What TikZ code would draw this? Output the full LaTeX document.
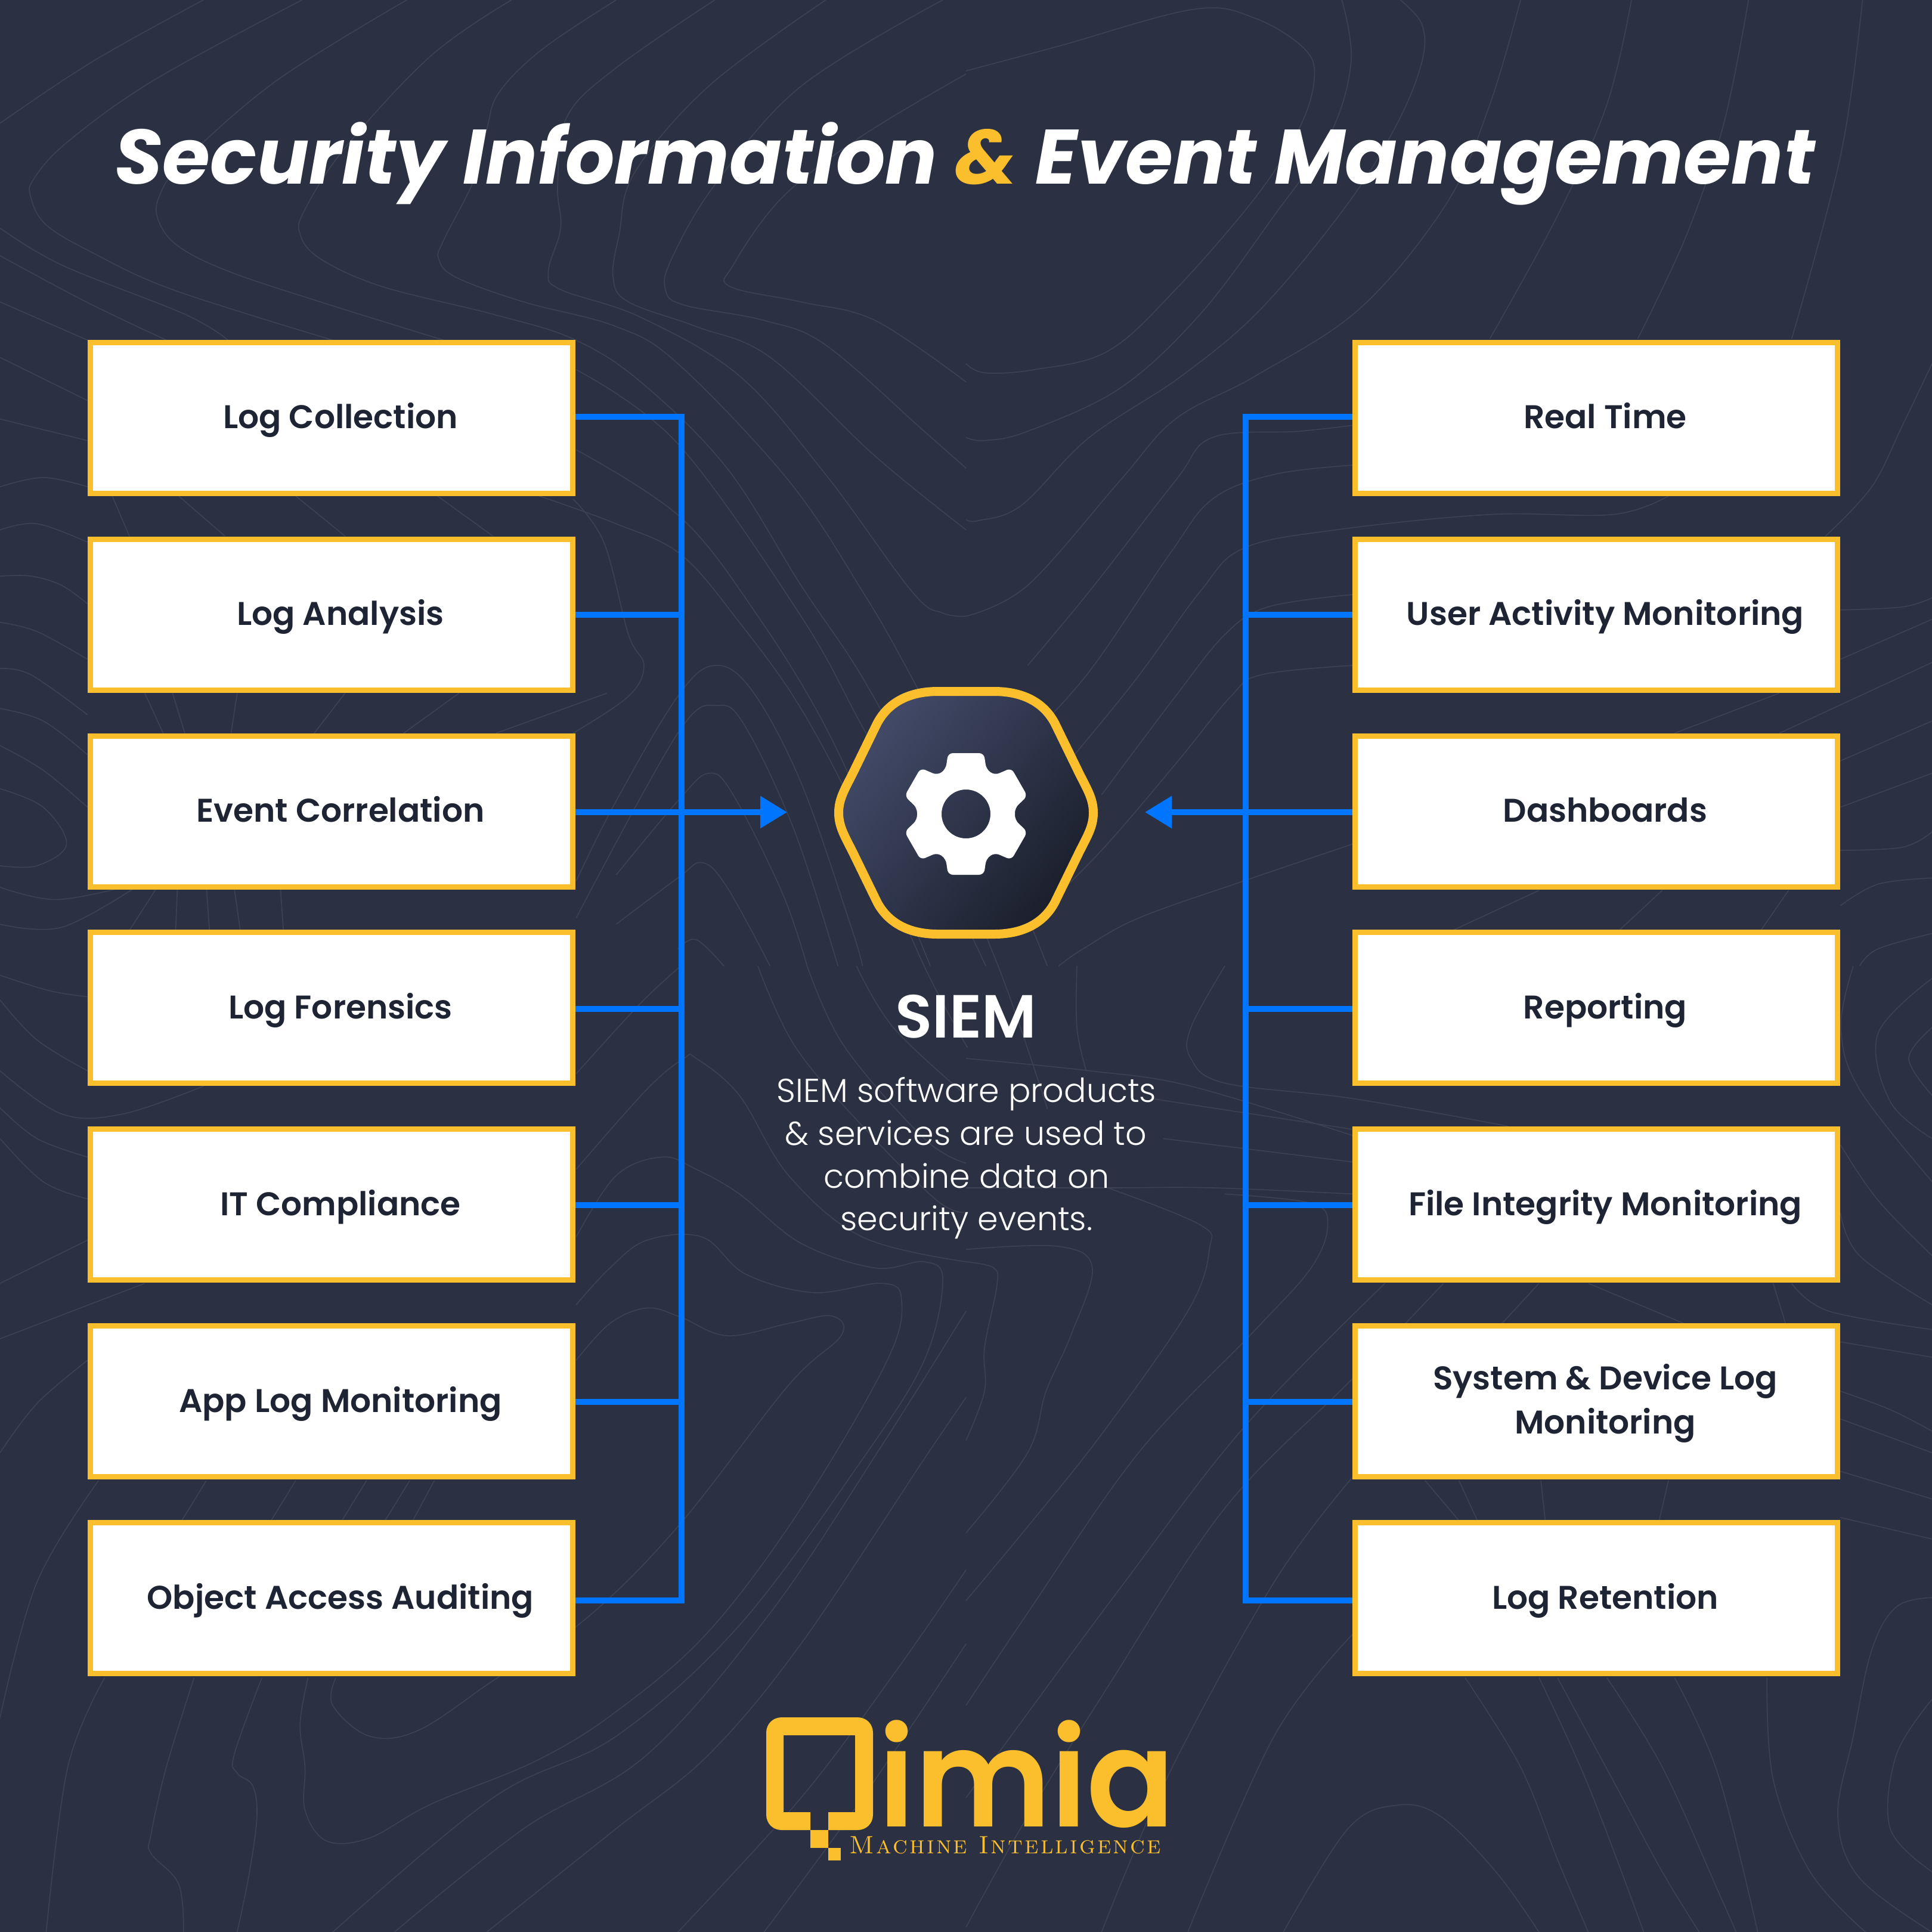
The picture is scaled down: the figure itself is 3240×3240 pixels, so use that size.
\documentclass[tikz,border=0pt]{standalone}
\usepackage{fontspec}
\usetikzlibrary{arrows.meta}
\newfontfamily\fnttitle{Poppins}
\newfontfamily\fntsemi{Poppins SemiBold}
\newfontfamily\fntlight{Poppins Light}
\newfontfamily\fntsub{lmromancaps10-regular.otf}[LetterSpace=7.5]
\definecolor{bgc}{HTML}{2B3142}
\definecolor{ctc}{HTML}{3C4252}
\definecolor{yel}{HTML}{FBBF2D}
\definecolor{blu}{HTML}{0075FF}
\definecolor{ink}{HTML}{1E2433}
\definecolor{hexa}{HTML}{424A68}
\definecolor{hexb}{HTML}{1B1F2C}
\newcommand{\ct}[1]{\draw[contour] plot[smooth,tension=.6] coordinates {#1};}
\tikzset{
  contour/.style={draw=ctc,line width=1.6pt},
  card/.style={draw=yel,fill=white,line width=9pt,minimum width=809pt,minimum height=253pt,inner sep=0pt},
  cardtext/.style={text=ink,font=\fntsemi\fontsize{55}{74}\selectfont,inner sep=0pt,align=center},
  wire/.style={draw=blu,line width=9.5pt},
  wirearrow/.style={wire,-{Triangle[length=45pt,width=52pt]}},
  bodytext/.style={anchor=base,inner sep=0pt,text=white,font=\fntlight\fontsize{55.5}{72}\selectfont},
}
\begin{document}
\begin{tikzpicture}[x=1pt,y=-1pt]
\useasboundingbox (0,0) rectangle (3240,3240);
\fill[bgc] (0,0) rectangle (3240,3240);
\begin{scope}
\clip (0,0) rectangle (3240,3240);
\begin{scope}[scale=1.0333]
\ct{(330,0)(150,100)(0,200)}
\ct{(490,0)(250,130)(110,230)(55,290)(50,320)(75,365)(150,410)(280,470)(540,552)}
\ct{(660,0)(450,130)(300,260)(258,320)(258,360)(290,400)(370,440)(520,490)(720,552)}
\ct{(830,0)(700,90)(560,240)(495,340)(487,380)(520,420)(620,465)(800,510)(930,550)(1040,620)(1180,760)(1300,950)(1400,1100)(1500,1290)(1620,1568)(1700,1800)}
\ct{(1000,0)(880,80)(810,150)(790,210)(770,290)(720,390)(712,420)(740,450)(850,490)(1000,530)(1100,590)(1280,780)(1400,960)(1480,1100)(1600,1330)(1700,1568)}
\ct{(1160,0)(1000,110)(920,190)(905,300)(910,370)(890,440)(910,470)(1040,515)(1200,610)(1340,770)(1480,960)(1530,995)(1568,1000)}
\ct{(1340,0)(1150,140)(1030,280)(1005,380)(995,450)(1020,490)(1130,530)(1250,580)(1420,740)(1568,860)}
\ct{(1530,0)(1300,140)(1160,300)(1090,420)(1080,470)(1110,495)(1240,520)(1340,560)(1500,700)(1568,760)}
\ct{(1568,120)(1400,220)(1270,320)(1190,430)(1185,465)(1300,490)(1420,520)(1568,620)}
\ct{(0,370)(100,430)(300,510)(370,552)}
\ct{(0,415)(140,490)(270,552)}
\ct{(0,490)(142,552)}
\ct{(0,580)(142,650)}
\ct{(0,680)(142,715)}
\ct{(0,790)(70,775)(142,790)}
\ct{(0,860)(60,850)(142,880)}
\ct{(0,935)(50,935)(100,950)(142,980)}
\ct{(0,1010)(60,1025)(142,1070)}
\ct{(0,1085)(50,1095)(142,1160)}
\ct{(0,1150)(70,1170)(142,1225)}
\ct{(0,1210)(70,1250)(142,1310)}
\ct{(0,1280)(70,1310)(108,1370)(60,1405)(0,1405)}
\ct{(0,1440)(90,1460)(200,1440)}
\ct{(0,1500)(100,1505)(220,1440)}
\ct{(180,800)(210,870)}
\ct{(290,805)(365,870)}
\ct{(480,805)(560,870)}
\ct{(710,805)(800,870)}
\ct{(875,805)(1000,850)(1105,900)(1200,1010)(1300,1150)(1400,1340)(1500,1568)(1570,1700)}
\ct{(930,810)(980,880)(1020,1030)(1045,1080)(1020,1130)(930,1190)}
\ct{(935,730)(1105,840)(1230,1000)(1340,1180)(1440,1400)(1510,1568)}
\ct{(935,600)(1100,720)(1300,1000)(1400,1180)(1500,1360)(1600,1568)}
\ct{(235,1125)(265,1190)}
\ct{(280,1125)(300,1190)}
\ct{(385,1125)(375,1190)}
\ct{(560,1125)(510,1190)}
\ct{(745,1125)(655,1190)}
\ct{(985,1125)(805,1190)}
\ct{(255,1440)(210,1510)}
\ct{(288,1440)(285,1510)}
\ct{(335,1440)(340,1510)}
\ct{(380,1440)(390,1510)}
\ct{(455,1440)(460,1510)}
\ct{(935,1430)(1000,1300)(1100,1130)(1160,1080)(1220,1120)(1300,1270)(1380,1500)(1400,1568)}
\ct{(935,1490)(1100,1190)(1165,1145)(1210,1180)(1290,1350)(1360,1568)}
\ct{(1000,1420)(1100,1300)(1150,1255)(1190,1290)(1270,1450)(1310,1568)}
\ct{(1000,1500)(1100,1425)(1140,1400)(1180,1440)(1250,1568)}
\ct{(1100,1540)(1130,1525)(1175,1568)}
\end{scope}
\begin{scope}[shift={(1620,0)},scale=1.0333]
\ct{(0,115)(150,75)(370,15)(470,30)(550,80)(565,130)(540,210)(470,320)(340,470)(230,570)(110,600)(30,605)(0,590)}
\ct{(610,0)(625,100)(590,220)(500,350)(380,510)(250,630)(100,700)(30,715)(0,710)}
\ct{(705,0)(740,40)(740,100)(700,200)(620,330)(480,500)(350,610)(200,710)(90,820)(20,845)(0,843)}
\ct{(900,0)(850,170)(780,330)(640,500)(470,610)(340,680)(250,780)(100,950)(0,1000)}
\ct{(1080,0)(1040,170)(960,350)(850,550)}
\ct{(1270,0)(1230,200)(1170,380)(1090,550)}
\ct{(1455,0)(1420,250)(1340,550)}
\ct{(1568,590)(1520,690)(1470,790)(1395,870)}
\ct{(630,690)(540,700)(400,710)(340,780)(200,960)(100,1080)}
\ct{(627,755)(500,770)(400,810)(330,900)(200,1090)(100,1200)}
\ct{(1140,805)(1050,835)(850,835)(600,860)(450,890)(380,960)(270,1110)(130,1280)}
\ct{(627,965)(490,985)(420,1030)(340,1130)(220,1290)}
\ct{(627,1080)(480,1095)(430,1130)(340,1240)(220,1380)(100,1500)}
\ct{(627,1370)(450,1430)(280,1490)(190,1540)(150,1568)}
\ct{(1419,990)(1520,985)(1568,970)}
\ct{(1568,1005)(1419,1070)}
\ct{(1320,1125)(1150,1190)}
\ct{(1568,1075)(1320,1190)}
\ct{(1568,1170)(1419,1235)}
\ct{(1568,1255)(1419,1310)}
\ct{(1419,1380)(1520,1375)(1568,1350)}
\ct{(1419,1470)(1480,1435)(1568,1425)}
\ct{(1568,1515)(1480,1540)(1450,1568)}
\ct{(1130,1445)(1060,1510)}
\ct{(930,1445)(790,1510)}
\ct{(1335,1445)(1290,1510)}
\end{scope}
\begin{scope}[shift={(0,1620)},scale=1.0333]
\ct{(0,15)(80,40)(142,50)}
\ct{(0,55)(60,120)(142,170)}
\ct{(0,170)(100,240)(200,240)(330,195)}
\ct{(0,230)(60,280)(142,310)}
\ct{(0,280)(70,350)(142,378)}
\ct{(142,445)(0,515)}
\ct{(235,515)(0,605)}
\ct{(142,640)(60,710)(0,790)}
\ct{(160,835)(60,1000)(0,1220)}
\ct{(335,835)(295,900)}
\ct{(480,835)(440,900)}
\ct{(595,835)(555,900)}
\ct{(665,835)(625,900)}
\ct{(705,835)(670,900)}
\ct{(170,1155)(110,1300)(75,1568)}
\ct{(315,1155)(270,1300)(245,1410)(245,1440)(290,1490)(298,1568)}
\ct{(425,1155)(380,1280)(385,1310)(410,1330)(417,1380)(405,1470)(385,1568)}
\ct{(500,1155)(487,1230)(495,1300)(495,1370)(530,1420)(600,1415)(700,1360)(870,1290)(1000,1210)(1150,1080)(1300,880)(1440,640)(1463,540)(1430,515)(1320,530)(1210,500)(1140,440)(1050,445)(990,490)(935,550)}
\ct{(545,1155)(540,1200)(600,1250)(680,1240)(800,1160)(950,1060)(1100,910)(1280,680)(1365,600)(1350,568)(1280,580)(1180,600)(1105,570)(1050,555)(990,580)(935,640)}
\ct{(540,1568)(800,1350)(1000,1250)(1200,1070)(1400,800)(1500,640)(1530,510)(1500,480)(1420,490)(1300,450)(1200,370)(1130,330)(1075,310)(1000,340)(935,440)}
\ct{(640,1568)(850,1400)(1050,1280)(1250,1050)(1430,780)(1568,560)}
\ct{(790,1568)(1000,1400)(1150,1280)(1300,1100)(1500,800)(1568,700)}
\ct{(1100,1568)(1300,1350)(1450,1150)(1568,980)}
\ct{(1240,1568)(1400,1350)(1568,1100)}
\ct{(1230,0)(1290,130)(1400,260)(1520,380)(1568,400)}
\ct{(1310,0)(1370,130)(1500,280)(1568,320)}
\ct{(1390,0)(1450,100)(1568,210)}
\ct{(935,175)(1040,60)(1105,0)}
\ct{(935,330)(1050,200)(1110,150)(1130,150)(1200,210)(1280,340)(1400,440)(1568,480)}
\end{scope}
\begin{scope}[shift={(1620,1620)},scale=1.0333]
\ct{(0,150)(200,170)(365,195)(627,275)}
\ct{(195,170)(180,100)(180,0)}
\ct{(420,0)(365,100)(365,150)(420,190)(627,215)(880,260)}
\ct{(300,215)(627,265)}
\ct{(320,280)(627,318)}
\ct{(0,360)(230,360)(400,360)(627,370)}
\ct{(0,460)(150,455)(205,490)(170,600)(130,690)(100,790)(0,920)}
\ct{(230,360)(380,420)(395,460)(360,560)(220,760)(100,910)(0,1030)}
\ct{(420,370)(560,385)(587,420)(560,490)(470,590)(280,790)(100,1050)(0,1200)}
\ct{(0,480)(45,490)(50,520)(30,620)(30,690)(0,770)}
\ct{(680,515)(450,750)(250,1010)(80,1240)(0,1350)}
\ct{(775,515)(627,670)(420,880)(230,1170)(100,1380)(0,1560)}
\ct{(627,830)(500,1000)(330,1310)(220,1568)}
\ct{(627,1085)(500,1250)(360,1568)}
\ct{(515,1568)(620,1400)(700,1362)(770,1380)(860,1470)(930,1568)}
\ct{(810,1155)(900,1300)(960,1450)(1010,1568)}
\ct{(930,1155)(1010,1330)(1100,1568)}
\ct{(960,1155)(1060,1340)(1130,1470)(1190,1568)}
\ct{(1040,1155)(1130,1300)(1220,1500)(1250,1568)}
\ct{(1150,1155)(1220,1310)(1285,1568)}
\ct{(1300,1155)(1310,1320)(1370,1470)(1460,1568)}
\ct{(1568,1025)(1510,1040)(1470,1110)(1440,1250)(1415,1380)(1450,1480)(1568,1568)}
\ct{(1568,1190)(1510,1280)(1500,1400)(1568,1470)}
\ct{(1419,400)(1450,470)(1568,550)}
\ct{(1419,290)(1480,380)(1568,470)}
\ct{(1340,515)(1400,560)(1568,590)}
\ct{(1310,515)(1330,580)}
\ct{(1419,610)(1568,635)}
\ct{(1419,690)(1500,720)(1568,755)}
\ct{(1419,735)(1568,790)}
\ct{(1419,820)(1568,865)}
\ct{(1419,895)(1568,930)}
\ct{(1568,20)(1480,110)(1500,220)(1568,280)}
\ct{(1440,0)(1420,100)(1450,200)(1568,350)}
\ct{(1568,100)(1530,150)(1568,210)}
\ct{(745,835)(800,900)}
\ct{(800,835)(830,900)}
\ct{(933,835)(940,900)}
\ct{(1140,835)(1125,900)}
\ct{(930,515)(870,580)}
\ct{(1010,515)(1165,580)}
\end{scope}
\end{scope}

% title
\node[name=title,anchor=base,inner sep=0pt,text=white,font=\fnttitle\bfseries\itshape\fontsize{129.5}{130}\selectfont] at (1618,308) {Security Information {\color{yel}\&} Event Management};

% cards
\foreach \n/\yy in {1/701,2/1031,3/1360.5,4/1690,5/2020,6/2350,7/2680}{
  \node[card] (l\n) at (556,\yy) {};
  \node[card] (r\n) at (2677,\yy) {};
}
\node[cardtext,anchor=base] (tl1) at (571,718) {Log Collection};
\node[cardtext,anchor=base] (tl2) at (571,1048) {Log Analysis};
\node[cardtext,anchor=base] (tl3) at (571,1378) {Event Correlation};
\node[cardtext,anchor=base] (tl4) at (571,1708) {Log Forensics};
\node[cardtext,anchor=base] (tl5) at (571,2038) {IT Compliance};
\node[cardtext,anchor=base] (tl6) at (571,2368) {App Log Monitoring};
\node[cardtext,anchor=base] (tl7) at (571,2698) {Object Access Auditing};
\node[cardtext,anchor=base] (tr1) at (2692,718) {Real Time};
\node[cardtext,anchor=base] (tr2) at (2692,1048) {User Activity Monitoring};
\node[cardtext,anchor=base] (tr3) at (2692,1378) {Dashboards};
\node[cardtext,anchor=base] (tr4) at (2692,1708) {Reporting};
\node[cardtext,anchor=base] (tr5) at (2692,2038) {File Integrity Monitoring};
\node[cardtext] (tr6) at (2692,2353) {System \& Device Log\\Monitoring};
\node[cardtext,anchor=base] (tr7) at (2692,2698) {Log Retention};

% connectors
\coordinate (jl1) at (1143,699);\coordinate (jl2) at (1143,1031);\coordinate (jl3) at (1143,1362);\coordinate (jl4) at (1143,1692);
\coordinate (jl5) at (1143,2021);\coordinate (jl6) at (1143,2351);\coordinate (jl7) at (1143,2684);
\coordinate (jr1) at (2089,699);\coordinate (jr2) at (2089,1031);\coordinate (jr3) at (2089,1362);\coordinate (jr4) at (2089,1692);
\coordinate (jr5) at (2089,2021);\coordinate (jr6) at (2089,2351);\coordinate (jr7) at (2089,2684);
\coordinate (tipl) at (1320,1362);\coordinate (tipr) at (1920,1362);
\draw[wire,line join=miter] (l1.east |- jl1) -- (jl1) -- (jl7) -- (l7.east |- jl7);
\draw[wire,line join=miter] (r1.west |- jr1) -- (jr1) -- (jr7) -- (r7.west |- jr7);
\foreach \n in {2,4,5,6}{
  \draw[wire] (l\n.east |- jl\n) -- (jl\n);
  \draw[wire] (r\n.west |- jr\n) -- (jr\n);
}
\draw[wirearrow] (l3.east |- jl3) -- (tipl);
\draw[wirearrow] (r3.west |- jr3) -- (tipr);

% hexagon
\begin{scope}[shift={(1620,1363)}]
\path[draw=yel,line width=15pt,shading=axis,top color=hexa,bottom color=hexb,shading angle=50]
 (-47,-203.5) -- (47,-203.5) .. controls (97,-203.5) and (131,-184) .. (149,-150)
 -- (187,-72) .. controls (202,-41) and (213.5,-25) .. (213.5,0)
 .. controls (213.5,25) and (202,41) .. (187,72)
 -- (149,150) .. controls (131,184) and (97,203.5) .. (47,203.5)
 -- (-47,203.5) .. controls (-97,203.5) and (-131,184) .. (-149,150)
 -- (-187,72) .. controls (-202,41) and (-213.5,25) .. (-213.5,0)
 .. controls (-213.5,-25) and (-202,-41) .. (-187,-72)
 -- (-149,-150) .. controls (-131,-184) and (-97,-203.5) .. (-47,-203.5) -- cycle;
\fill[white,even odd rule] [rounded corners=8pt] (-30,-100) -- (30,-100) -- (34,-73) -- (48,-63) -- (76,-75) -- (103,-28) -- (82,-8) -- (82,12) -- (103,32) -- (76,79) -- (48,67) -- (34,77) -- (30,104) -- (-30,104) -- (-34,77) -- (-48,67) -- (-76,79) -- (-103,32) -- (-82,12) -- (-82,-8) -- (-103,-28) -- (-76,-75) -- (-48,-63) -- (-34,-73) -- cycle [sharp corners] (0,2) circle (41);
\end{scope}

% centre text
\node[name=siem,anchor=base,inner sep=0pt,text=white,font=\fntsemi\fontsize{102}{104}\selectfont] at (1620,1740) {SIEM};
\node[name=body1,bodytext] at (1621,1848) {SIEM software products};
\node[name=body2,bodytext] at (1620,1920) {\& services are used to};
\node[name=body3,bodytext] at (1621,1992) {combine data on};
\node[name=body4,bodytext] at (1621,2063) {security events.};

% logo
\fill[yel] (1389,3069) -- (1438,3069) .. controls (1453,3069) and (1464,3058) .. (1464,3043) -- (1464,2906) .. controls (1464,2891) and (1453,2880) .. (1438,2880) -- (1311,2880) .. controls (1296,2880) and (1285,2891) .. (1285,2906) -- (1285,3043) .. controls (1285,3058) and (1296,3069) .. (1311,3069) -- (1359,3069) -- (1359,3039) -- (1314,3039) -- (1314,2910) -- (1434,2910) -- (1434,3039) -- (1389,3039) -- cycle;
\fill[yel] (1359,3069) rectangle (1389,3099);
\fill[yel] (1389,3099) rectangle (1410,3120);
\node[name=logotext,anchor=base,inner sep=0pt,text=yel,font=\fntsemi\fontsize{228}{228}\selectfont] at (1722,3063) {\scalebox{.955}[1]{imia}};
\node[name=logosub,anchor=base,inner sep=0pt,text=yel,font=\fntsub\fontsize{42}{42}\selectfont] at (1686,3108) {Machine Intelligence};
\end{tikzpicture}
\end{document}
